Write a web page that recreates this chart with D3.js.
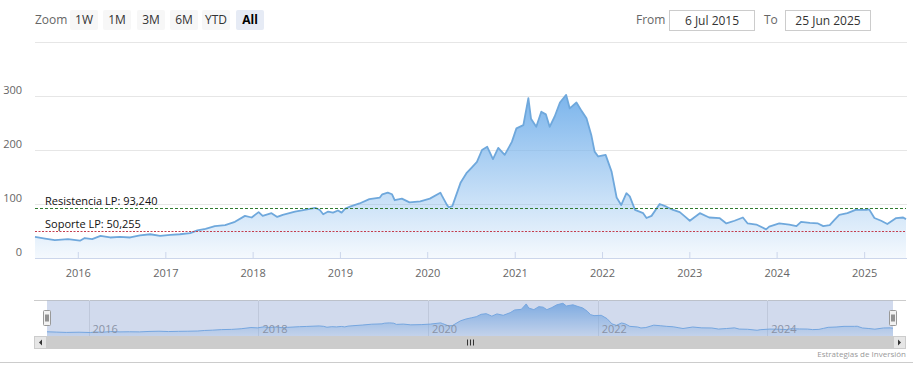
<!DOCTYPE html>
<html>
<head>
<meta charset="utf-8">
<script src="https://cdn.jsdelivr.net/npm/d3@7"></script>
<style>
  body { margin: 0; background: #fff; }
  svg { display: block; font-family: "Open Sans", sans-serif; }
</style>
</head>
<body>
<div id="chart"></div>
<script>
// price series
const dates = [
  '2015-07-06','2015-08-17','2015-09-27','2015-11-21','2016-01-10','2016-01-30','2016-03-01','2016-04-05',
  '2016-05-15','2016-06-25','2016-08-07','2016-09-17','2016-10-30','2016-12-10','2017-01-22','2017-03-03',
  '2017-04-15','2017-05-15','2017-06-18','2017-07-27','2017-09-08','2017-10-19','2017-11-30','2017-12-28',
  '2018-01-26','2018-02-12','2018-03-21','2018-04-14','2018-05-07','2018-06-27','2018-07-26','2018-09-20',
  '2018-10-09','2018-10-23','2018-11-13','2018-12-03','2018-12-24','2019-01-08','2019-01-22','2019-02-12',
  '2019-03-24','2019-05-04','2019-06-17','2019-06-27','2019-07-20','2019-08-07','2019-08-18','2019-09-17',
  '2019-10-19','2019-12-03','2020-01-12','2020-02-25','2020-03-03','2020-03-24','2020-03-31','2020-04-15',
  '2020-05-20','2020-06-13','2020-07-06','2020-07-27','2020-08-17','2020-09-08','2020-10-02','2020-10-24',
  '2020-11-20','2020-12-20','2021-01-08','2021-02-06','2021-02-27','2021-03-10','2021-04-01','2021-04-22',
  '2021-05-11','2021-05-27','2021-06-17','2021-07-09','2021-08-04','2021-08-19','2021-09-16','2021-10-08',
  '2021-10-28','2021-11-17','2021-12-01','2021-12-16','2022-01-16','2022-02-10','2022-03-03','2022-03-22',
  '2022-04-13','2022-04-27','2022-05-19','2022-06-22','2022-07-06','2022-07-27','2022-08-30','2022-09-27',
  '2022-10-25','2022-11-22','2022-12-13','2023-01-03','2023-02-14','2023-03-25','2023-05-07','2023-06-05',
  '2023-07-09','2023-08-13','2023-09-02','2023-10-08','2023-11-18','2023-12-01','2024-01-12','2024-02-23',
  '2024-03-24','2024-04-12','2024-05-19','2024-06-22','2024-07-14','2024-08-10','2024-08-29','2024-09-19',
  '2024-10-23','2024-11-26','2025-01-10','2025-01-22','2025-02-13','2025-03-13','2025-04-08','2025-05-15',
  '2025-06-13','2025-06-25'
];
const values = [
  39, 36, 33, 35, 32, 37, 35, 41,
  38, 39, 38, 42, 44, 41, 43, 44,
  46, 51, 54, 59, 61, 67, 78, 75,
  85, 78, 83, 76, 80, 86, 88, 93,
  89, 81, 86, 84, 88, 84, 91, 95,
  101, 109, 112, 118, 121, 118, 107, 110,
  103, 105, 110, 121, 115, 98, 94, 96,
  140, 157, 168, 178, 200, 206, 183, 204,
  191, 215, 240, 246, 296, 258, 243, 271,
  266, 243, 262, 288, 302, 277, 288, 272,
  259, 228, 197, 188, 191, 160, 112, 98,
  120, 114, 89, 83, 74, 78, 100, 95,
  89, 85, 77, 69, 83, 75, 74, 64,
  69, 75, 64, 62, 53, 58, 64, 62,
  59, 67, 65, 64, 59, 61, 70, 80,
  83, 89, 89, 90, 74, 69, 63, 74,
  75, 72
];

// support / resistance levels
const levelNames = ['Resistencia LP', 'Soporte LP'];
const levelValues = [93.240, 50.255];
const levelColors = ['#2f7a2f', '#c43c4c'];

// axis ticks
const yTicks = [0, 100, 200, 300, 400];
const yLabels = [0, 100, 200, 300];
const navTickYears = [2016, 2018, 2020, 2022, 2024];

// range selector
const zoomButtons = ['1W', '1M', '3M', '6M', 'YTD', 'All'];
const fromText = '6 Jul 2015';
const toText = '25 Jun 2025';

const width = 913;
const height = 375;

const parse = d3.timeParse('%Y-%m-%d');
const data = dates.map((d, i) => ({ date: parse(d), value: values[i] }));
const start = data[0].date;
const end = data[data.length - 1].date;

const svg = d3.select('#chart')
  .append('svg')
  .attr('width', width)
  .attr('height', height);

const defs = svg.append('defs');

// main scales
const x = d3.scaleTime().domain([start, end]).range([35, 906]);
const y = d3.scaleLinear().domain([0, 400]).range([258, 42]);

// gradient for the area
const grad = defs.append('linearGradient')
  .attr('id', 'areaFill')
  .attr('gradientUnits', 'userSpaceOnUse')
  .attr('x1', 0).attr('x2', 0)
  .attr('y1', y(d3.max(values))).attr('y2', y(0));
grad.append('stop').attr('offset', 0).attr('stop-color', '#7cb5ec').attr('stop-opacity', 1);
grad.append('stop').attr('offset', 1).attr('stop-color', '#7cb5ec').attr('stop-opacity', 0.08);

// grid lines
svg.append('g')
  .selectAll('line')
  .data(yTicks.filter(t => t > 0))
  .enter()
  .append('line')
  .attr('x1', 35).attr('x2', 907)
  .attr('y1', d => Math.round(y(d)) + 0.5)
  .attr('y2', d => Math.round(y(d)) + 0.5)
  .attr('stroke', '#e6e6e6');

// y labels
svg.append('g')
  .selectAll('text')
  .data(yLabels)
  .enter()
  .append('text')
  .attr('x', 22)
  .attr('y', d => y(d) - 2)
  .attr('text-anchor', 'end')
  .attr('font-size', 11)
  .attr('fill', '#666')
  .text(d => d);

// area and line
const area = d3.area()
  .x(d => x(d.date))
  .y0(y(0))
  .y1(d => y(d.value));
const line = d3.line()
  .x(d => x(d.date))
  .y(d => y(d.value));

svg.append('path')
  .datum(data)
  .attr('d', area)
  .attr('fill', 'url(#areaFill)');

svg.append('path')
  .datum(data)
  .attr('d', line)
  .attr('fill', 'none')
  .attr('stroke', '#6fa8dc')
  .attr('stroke-width', 1.8)
  .attr('stroke-linejoin', 'round');

// x axis
const xAxis = d3.axisBottom(x)
  .ticks(d3.timeYear.every(1))
  .tickFormat(d3.timeFormat('%Y'))
  .tickSizeInner(-6)
  .tickSizeOuter(0)
  .tickPadding(11);

const gx = svg.append('g')
  .attr('transform', `translate(0,${y(0)})`)
  .call(xAxis);
gx.select('.domain').attr('stroke', '#ccd6eb').attr('d', 'M35,0.5H907');
gx.selectAll('.tick line').attr('stroke', '#ccd6eb');
gx.selectAll('.tick text')
  .attr('font-size', 11)
  .attr('fill', '#666')
  .attr('font-family', '"Open Sans", sans-serif');

// support / resistance lines
levelValues.forEach((v, i) => {
  const ly = Math.round(y(v)) + 0.5;
  svg.append('line')
    .attr('x1', 35).attr('x2', 906)
    .attr('y1', ly).attr('y2', ly)
    .attr('stroke', levelColors[i])
    .attr('stroke-width', i === 0 ? 1 : 1.2)
    .attr('stroke-dasharray', i === 0 ? '3,2' : '2,1.5');
  svg.append('text')
    .attr('x', 45)
    .attr('y', ly - 4)
    .attr('font-size', 11)
    .attr('fill', '#111')
    .text(`${levelNames[i]}: ${d3.format(',.3f')(v).replace('.', ',')}`);
});

// navigator
const nx = d3.scaleTime().domain([start, end]).range([47, 893]);
const ny = d3.scaleLinear().domain([0, d3.max(values) * 1.1]).range([336, 300]);

const nav = svg.append('g');

nav.append('line')
  .attr('x1', 34).attr('x2', 906)
  .attr('y1', 300.5).attr('y2', 300.5)
  .attr('stroke', '#cccccc');

nav.selectAll('.navgrid')
  .data(navTickYears)
  .enter()
  .append('line')
  .attr('class', 'navgrid')
  .attr('x1', d => Math.round(nx(new Date(d, 0, 1))) + 0.5)
  .attr('x2', d => Math.round(nx(new Date(d, 0, 1))) + 0.5)
  .attr('y1', 300).attr('y2', 336)
  .attr('stroke', '#e6e6e6');

const navGrad = defs.append('linearGradient')
  .attr('id', 'navFill')
  .attr('gradientUnits', 'userSpaceOnUse')
  .attr('x1', 0).attr('x2', 0)
  .attr('y1', ny(d3.max(values))).attr('y2', 336);
navGrad.append('stop').attr('offset', 0).attr('stop-color', '#7cb5ec').attr('stop-opacity', 0.9);
navGrad.append('stop').attr('offset', 1).attr('stop-color', '#7cb5ec').attr('stop-opacity', 0.15);

nav.append('path')
  .datum(data)
  .attr('d', d3.area().x(d => nx(d.date)).y0(336).y1(d => ny(d.value)))
  .attr('fill', 'url(#navFill)');
nav.append('path')
  .datum(data)
  .attr('d', d3.line().x(d => nx(d.date)).y(d => ny(d.value)))
  .attr('fill', 'none')
  .attr('stroke', '#7cb5ec')
  .attr('stroke-width', 1);

nav.selectAll('.navlabel')
  .data(navTickYears)
  .enter()
  .append('text')
  .attr('class', 'navlabel')
  .attr('x', d => nx(new Date(d, 0, 1)) + 4)
  .attr('y', 333)
  .attr('font-size', 11)
  .attr('fill', '#999')
  .text(d => d);

// selected zone mask
nav.append('rect')
  .attr('x', 47).attr('y', 300.5)
  .attr('width', 846).attr('height', 35.5)
  .attr('fill', 'rgba(102,133,194,0.3)');

// handles
[47, 893].forEach(hx => {
  const hg = nav.append('g').attr('transform', `translate(${Math.round(hx) - 3.5},310.5)`);
  hg.append('rect')
    .attr('width', 7).attr('height', 15)
    .attr('rx', 1)
    .attr('fill', '#f2f2f2')
    .attr('stroke', '#999');
  [2.5, 4.5].forEach(lx => {
    hg.append('line')
      .attr('x1', lx).attr('x2', lx)
      .attr('y1', 4).attr('y2', 11)
      .attr('stroke', '#333');
  });
});

// scrollbar
const sb = svg.append('g');
sb.append('rect')
  .attr('x', 34).attr('y', 336)
  .attr('width', 872).attr('height', 13)
  .attr('fill', '#f2f2f2');
sb.append('rect')
  .attr('x', 47).attr('y', 336)
  .attr('width', 846).attr('height', 13)
  .attr('fill', '#cccccc');
[467.5, 470.5, 473.5].forEach(gxp => {
  sb.append('line')
    .attr('x1', gxp).attr('x2', gxp)
    .attr('y1', 339.5).attr('y2', 345.5)
    .attr('stroke', '#333');
});
[[34, 'left'], [893, 'right']].forEach(([bx, dir]) => {
  sb.append('rect')
    .attr('x', bx + 0.5).attr('y', 336.5)
    .attr('width', 12).attr('height', 12)
    .attr('fill', '#e6e6e6')
    .attr('stroke', '#cccccc');
  const cx = bx + 6.5;
  const pts = dir === 'left'
    ? `${cx + 1.5},${339.5} ${cx - 1.5},${342.5} ${cx + 1.5},${345.5}`
    : `${cx - 1.5},${339.5} ${cx + 1.5},${342.5} ${cx - 1.5},${345.5}`;
  sb.append('polygon').attr('points', pts).attr('fill', '#333');
});

// bottom separator and credits
svg.append('line')
  .attr('x1', 0).attr('x2', width)
  .attr('y1', 362.5).attr('y2', 362.5)
  .attr('stroke', '#cccccc');
svg.append('text')
  .attr('x', 906)
  .attr('y', 357)
  .attr('text-anchor', 'end')
  .attr('font-size', 8)
  .attr('fill', '#999')
  .text('Estrategias de Inversión');

// range selector
const rs = svg.append('g');
rs.append('text')
  .attr('x', 35).attr('y', 24)
  .attr('font-size', 12)
  .attr('fill', '#666')
  .text('Zoom');

const btnX = [70, 103, 137, 170, 202, 236];
zoomButtons.forEach((b, i) => {
  const sel = b === 'All';
  const g = rs.append('g').attr('transform', `translate(${btnX[i]},10)`);
  g.append('rect')
    .attr('width', 28).attr('height', 20)
    .attr('rx', 2)
    .attr('fill', sel ? '#e6ebf5' : '#f7f7f7');
  g.append('text')
    .attr('x', 14).attr('y', 14)
    .attr('text-anchor', 'middle')
    .attr('font-size', 12)
    .attr('font-weight', sel ? 'bold' : 'normal')
    .attr('fill', sel ? '#000' : '#333')
    .text(b);
});

rs.append('text')
  .attr('x', 636).attr('y', 24)
  .attr('font-size', 12)
  .attr('fill', '#666')
  .text('From');
rs.append('text')
  .attr('x', 764).attr('y', 24)
  .attr('font-size', 12)
  .attr('fill', '#666')
  .text('To');

[[669, fromText], [785, toText]].forEach(([bx, t]) => {
  rs.append('rect')
    .attr('x', bx + 0.5).attr('y', 10.5)
    .attr('width', 85).attr('height', 20)
    .attr('fill', '#fff')
    .attr('stroke', '#cccccc');
  rs.append('text')
    .attr('x', bx + 43).attr('y', 24.5)
    .attr('text-anchor', 'middle')
    .attr('font-size', 12)
    .attr('fill', '#333')
    .text(t);
});
</script>
</body>
</html>
